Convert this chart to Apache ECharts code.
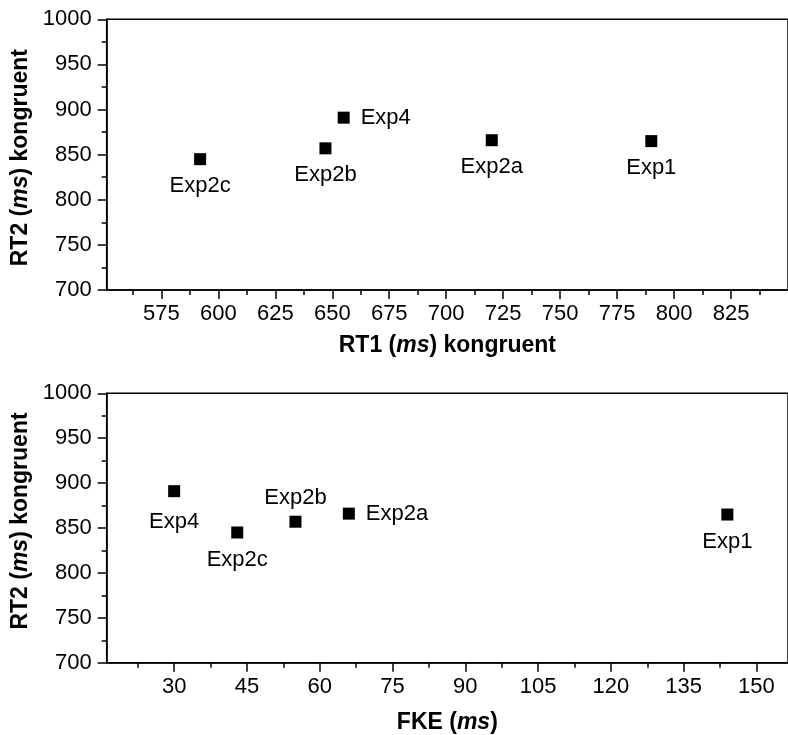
<!DOCTYPE html>
<html>
<head>
<meta charset="utf-8">
<script src="https://cdn.jsdelivr.net/npm/echarts@6/dist/echarts.min.js"></script>
<style>
html,body{margin:0;padding:0;background:#fff;}
#chart{width:788px;height:735px;}
</style>
</head>
<body>
<div id="chart"></div>
<script>
// ---- data ----
var experiments = ['Exp1', 'Exp2a', 'Exp2b', 'Exp2c', 'Exp4'];
var rt1Kongruent = [790, 720, 647, 592, 655];
var rt2Kongruent = [865, 866, 857, 845, 891];
var fke = [144, 66, 55, 43, 30];

var rt1MajorTicks = [575, 600, 625, 650, 675, 700, 725, 750, 775, 800, 825];
var rt1MinorTicks = [562.5, 587.5, 612.5, 637.5, 662.5, 687.5, 712.5, 737.5, 762.5, 787.5, 812.5, 837.5];
var fkeMajorTicks = [30, 45, 60, 75, 90, 105, 120, 135, 150];
var fkeMinorTicks = [22.5, 37.5, 52.5, 67.5, 82.5, 97.5, 112.5, 127.5, 142.5];

// ---- label placement (layout, not data) ----
var topPlacement = {Exp1: ['bottom', 10], Exp2a: ['bottom', 10], Exp2b: ['bottom', 10], Exp2c: ['bottom', 10], Exp4: ['right', 11]};
var bottomPlacement = {Exp1: ['bottom', 10], Exp2a: ['right', 11], Exp2b: ['top', 7], Exp2c: ['bottom', 10], Exp4: ['bottom', 14]};

var FONT = 'Liberation Sans, Arial, sans-serif';
var BLACK = '#000';

function buildData(xs, ys, placement) {
  return experiments.map(function (name, i) {
    var p = placement[name];
    return {
      name: name,
      value: [xs[i], ys[i]],
      label: {position: p[0], distance: p[1]}
    };
  });
}

var lineStyle = {color: BLACK, width: 1.5};
var plain = function (v) { return String(v); };

function majorX(gridIndex, min, max, ticks, nameRich, nameGap) {
  return {
    type: 'value', gridIndex: gridIndex, position: 'bottom', min: min, max: max,
    axisLine: {show: true, onZero: false, lineStyle: lineStyle},
    axisTick: {show: true, inside: false, length: 9, customValues: ticks, lineStyle: lineStyle},
    axisLabel: {show: true, customValues: ticks, margin: 13, color: BLACK, fontSize: 22, fontFamily: FONT, formatter: plain},
    splitLine: {show: false},
    name: nameRich, nameLocation: 'middle', nameGap: nameGap,
    nameTextStyle: {
      color: BLACK, fontSize: 23, fontWeight: 'bold', fontFamily: FONT,
      rich: {i: {color: BLACK, fontSize: 23, fontWeight: 'bold', fontStyle: 'italic', fontFamily: FONT}}
    }
  };
}
function minorX(gridIndex, min, max, ticks) {
  return {
    type: 'value', gridIndex: gridIndex, position: 'bottom', offset: 0, min: min, max: max,
    axisLine: {show: false, onZero: false},
    axisTick: {show: true, inside: false, length: 5, customValues: ticks, lineStyle: lineStyle},
    axisLabel: {show: false},
    splitLine: {show: false}
  };
}
function yAx(gridIndex, pad) {
  return {
    type: 'value', gridIndex: gridIndex, min: 700, max: 1000, interval: 50,
    axisLine: {show: true, onZero: false, lineStyle: lineStyle},
    axisTick: {show: true, inside: false, length: 9, lineStyle: lineStyle},
    minorTick: {show: true, splitNumber: 2, length: 5, lineStyle: lineStyle},
    axisLabel: {margin: 15, color: BLACK, fontSize: 22, fontFamily: FONT, formatter: plain},
    splitLine: {show: false},
    minorSplitLine: {show: false},
    name: 'RT2 ({i|ms}) kongruent', nameLocation: 'middle', nameRotate: 90, nameGap: 71,
    nameTextStyle: {
      color: BLACK, fontSize: 23, fontWeight: 'bold', fontFamily: FONT, padding: pad,
      rich: {i: {color: BLACK, fontSize: 23, fontWeight: 'bold', fontStyle: 'italic', fontFamily: FONT}}
    }
  };
}

var chart = echarts.init(document.getElementById('chart'), null, {renderer: 'canvas'});
var seriesLabel = {show: true, formatter: '{b}', color: BLACK, fontSize: 22, fontFamily: FONT};

chart.setOption({
  animation: false,
  backgroundColor: '#fff',
  grid: [
    {left: 106.7, top: 19.3, width: 694.2, height: 270.7, show: true, borderColor: BLACK, borderWidth: 1.5, backgroundColor: 'transparent', containLabel: false},
    {left: 106.7, top: 393.3, width: 693.2, height: 269.4, show: true, borderColor: BLACK, borderWidth: 1.5, backgroundColor: 'transparent', containLabel: false}
  ],
  xAxis: [
    majorX(0, 551, 850, rt1MajorTicks, 'RT1 ({i|ms}) kongruent', 44),
    minorX(0, 551, 850, rt1MinorTicks),
    majorX(1, 16.1, 156.5, fkeMajorTicks, 'FKE ({i|ms})', 48),
    minorX(1, 16.1, 156.5, fkeMinorTicks)
  ],
  yAxis: [yAx(0, [0, 6, 0, 0]), yAx(1, [0, 0, 0, 14])],
  series: [
    {
      type: 'scatter', xAxisIndex: 0, yAxisIndex: 0, symbol: 'rect', symbolSize: 12,
      itemStyle: {color: BLACK, opacity: 1}, label: seriesLabel,
      data: buildData(rt1Kongruent, rt2Kongruent, topPlacement)
    },
    {
      type: 'scatter', xAxisIndex: 2, yAxisIndex: 1, symbol: 'rect', symbolSize: 12,
      itemStyle: {color: BLACK, opacity: 1}, label: seriesLabel,
      data: buildData(fke, rt2Kongruent, bottomPlacement)
    }
  ]
});
</script>
</body>
</html>
